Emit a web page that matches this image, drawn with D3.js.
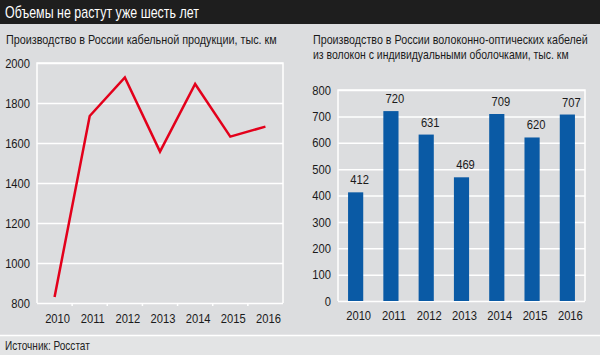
<!DOCTYPE html>
<html><head><meta charset="utf-8">
<script src="https://cdn.jsdelivr.net/npm/d3@7"></script>
<style>
body{margin:0;padding:0;background:#dcdddf;}
svg{display:block;}
text{font-family:"Liberation Sans",Arial,sans-serif;}
</style></head>
<body>
<svg id="c" width="600" height="355"></svg>
<script>
const years = ["2010","2011","2012","2013","2014","2015","2016"];
const cableValues = [830, 1735, 1928, 1557, 1895, 1632, 1682];
const cableTicks = [800, 1000, 1200, 1400, 1600, 1800, 2000];
const fiberValues = [412, 720, 631, 469, 709, 620, 707];
const fiberTicks = [0, 100, 200, 300, 400, 500, 600, 700, 800];
const title = "Объемы не растут уже шесть лет";
const leftTitle = ["Производство в России кабельной продукции, тыс. км"];
const rightTitle = ["Производство в России волоконно-оптических кабелей", "из волокон с индивидуальными оболочками, тыс. км"];
const source = "Источник: Росстат";

const svg = d3.select("#c");
const W = 600, H = 355;

function fitText(str, x, y, width, size, color){
  const g = svg.append("g");
  const t = g.append("text").attr("x",0).attr("y",0).attr("font-size",size).attr("fill",color).text(str);
  const w = t.node().getComputedTextLength();
  g.attr("transform",`translate(${x},${y}) scale(${width/w},1)`);
  return t;
}
function condense(sel, f){
  sel.each(function(){
    const w = this.getComputedTextLength();
    d3.select(this).attr("textLength", w*f).attr("lengthAdjust","spacingAndGlyphs");
  });
}

svg.append("rect").attr("width",W).attr("height",H).attr("fill","#dcdddf");
svg.append("rect").attr("x",0).attr("y",0).attr("width",W).attr("height",24).attr("fill","#1e1e1e");
fitText(title, 5, 18, 194, 16, "#ffffff");
svg.append("rect").attr("x",0).attr("y",336).attr("width",W).attr("height",19).attr("fill","#e3e4e5");
svg.append("line").attr("x1",0).attr("x2",W).attr("y1",335.5).attr("y2",335.5).attr("stroke","#ffffff").attr("stroke-width",1.5);
fitText(source, 5, 350, 85, 12.5, "#222222");

const subW = [[271],[275,256]];
leftTitle.forEach((l,i)=>fitText(l, 6, 43.5+i*15.5, subW[0][i], 13, "#1a1a1a"));
rightTitle.forEach((l,i)=>fitText(l, 313, 43.5+i*15.5, subW[1][i], 13, "#1a1a1a"));

function frame(g, x0, x1, y0, y1){
  g.append("path").attr("d",`M${x0},${y1}V${y0}H${x1}V${y1}`).attr("fill","none").attr("stroke","#ffffff").attr("stroke-width",1.5);
}
const TS = 13, TC = 0.86;

// left chart
{
  const x0=37, x1=283, yTop=63, yBot=303;
  const g = svg.append("g");
  const x = d3.scaleBand().domain(years).range([x0,x1]);
  const y = d3.scaleLinear().domain([800,2000]).range([yBot,yTop]);
  frame(g,x0,x1,yTop,yBot);
  const ya = d3.axisLeft(y).tickValues(cableTicks).tickSize(-(x1-x0)).tickFormat(d3.format("d"));
  const gy = g.append("g").attr("transform",`translate(${x0},0)`).call(ya);
  gy.select(".domain").remove();
  gy.selectAll(".tick line").attr("stroke","#ffffff").attr("stroke-width",1.5);
  gy.selectAll(".tick text").attr("x",-7).attr("font-size",TS).attr("fill","#1a1a1a").attr("font-family",null);
  condense(gy.selectAll(".tick text"), TC);
  const xa = d3.axisBottom(x).tickSize(0).tickPadding(11);
  const gx = g.append("g").attr("transform",`translate(0,${yBot})`).call(xa);
  gx.select(".domain").remove();
  gx.selectAll(".tick text").attr("font-size",TS).attr("fill","#1a1a1a").attr("dx",3).attr("font-family",null);
  condense(gx.selectAll(".tick text"), TC);
  g.selectAll(".bt").data(years.slice(1)).join("line")
    .attr("x1",d=>x(d)).attr("x2",d=>x(d)).attr("y1",yBot).attr("y2",yBot+3)
    .attr("stroke","#ffffff").attr("stroke-width",1.5);
  const line = d3.line().x((d,i)=>x(years[i])+x.bandwidth()/2).y(d=>y(d));
  g.append("path").datum(cableValues).attr("d",line).attr("fill","none").attr("stroke","#e3001b").attr("stroke-width",2.5).attr("stroke-linejoin","miter");
}

// right chart
{
  const x0=338, x1=585, yTop=90, yBot=301;
  const g = svg.append("g");
  const x = d3.scaleBand().domain(years).range([x0,x1]).paddingInner(0.57).paddingOuter(0.285);
  const y = d3.scaleLinear().domain([0,800]).range([yBot,yTop]);
  frame(g,x0,x1,yTop,yBot);
  const ya = d3.axisLeft(y).tickValues(fiberTicks).tickSize(-(x1-x0)).tickFormat(d3.format("d"));
  const gy = g.append("g").attr("transform",`translate(${x0},0)`).call(ya);
  gy.select(".domain").remove();
  gy.selectAll(".tick line").attr("stroke","#ffffff").attr("stroke-width",1.5);
  gy.selectAll(".tick text").attr("x",-7).attr("font-size",TS).attr("fill","#1a1a1a").attr("font-family",null);
  condense(gy.selectAll(".tick text"), TC);
  const xa = d3.axisBottom(x).tickSize(0).tickPadding(10);
  const gx = g.append("g").attr("transform",`translate(0,${yBot})`).call(xa);
  gx.select(".domain").remove();
  gx.selectAll(".tick text").attr("font-size",TS).attr("fill","#1a1a1a").attr("dx",3).attr("font-family",null);
  condense(gx.selectAll(".tick text"), TC);
  g.selectAll(".bar").data(fiberValues).join("rect")
    .attr("x",(d,i)=>x(years[i])).attr("width",x.bandwidth())
    .attr("y",d=>y(d)).attr("height",d=>yBot-y(d)).attr("fill","#0a5aa5");
  const lbl = g.selectAll(".lbl").data(fiberValues).join("text")
    .attr("x",(d,i)=>x(years[i])+x.bandwidth()/2+4).attr("y",d=>y(d)-8)
    .attr("text-anchor","middle").attr("font-size",TS).attr("fill","#1a1a1a").text(d=>d);
  condense(lbl, TC);
}
</script>
</body></html>
